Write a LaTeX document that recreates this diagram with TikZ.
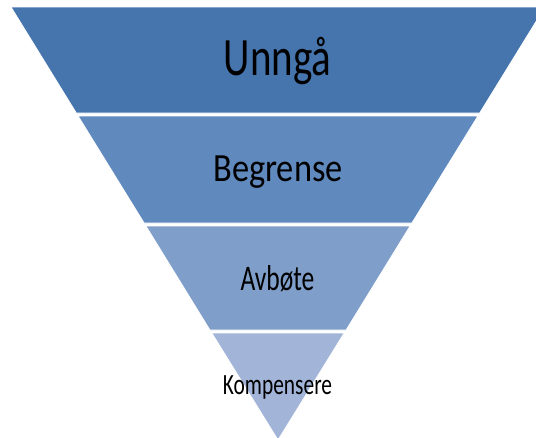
\documentclass[tikz,border=0pt]{standalone}
\usepackage{fontspec}
\setmainfont{Carlito}
\definecolor{bandA}{HTML}{4675AE}
\definecolor{bandB}{HTML}{6089BE}
\definecolor{bandC}{HTML}{7F9EC9}
\definecolor{bandD}{HTML}{A2B4D8}
\begin{document}
\begin{tikzpicture}[x=0.75pt,y=-0.75pt,
  band/.style={draw=white,line width=0.6pt},
  lbl/.style={anchor=base,inner sep=0pt,text=black}]
\useasboundingbox (0,0) rectangle (536,437);
\clip (0,0) rectangle (536,437);
\fill[white] (0,0) rectangle (536,437);
\path[band,fill=bandA] (11,7) -- (545,7) -- (479.7,113) -- (76.3,113) -- cycle;
\path[band,fill=bandB] (78.1,116) -- (477.9,116) -- (411.9,223) -- (144.1,223) -- cycle;
\path[band,fill=bandC] (145.9,226) -- (410.1,226) -- (346.1,330) -- (209.9,330) -- cycle;
\path[band,fill=bandD] (211.8,333) -- (344.2,333) -- (278,440) -- cycle;
\node[lbl] (t1) at (277.5,75) {\scalebox{0.76}[1]{\fontsize{40.5pt}{48pt}\selectfont Unngå}};
\node[lbl] (t2) at (278,181) {\scalebox{0.86}[1]{\fontsize{30pt}{36pt}\selectfont Begrense}};
\node[lbl] (t3) at (277.5,290) {\scalebox{0.71}[1]{\fontsize{27pt}{32pt}\selectfont Avbøte}};
\node[lbl] (t4) at (277.5,394) {\scalebox{0.73}[1]{\fontsize{22pt}{26pt}\selectfont Kompensere}};
\end{tikzpicture}
\end{document}
